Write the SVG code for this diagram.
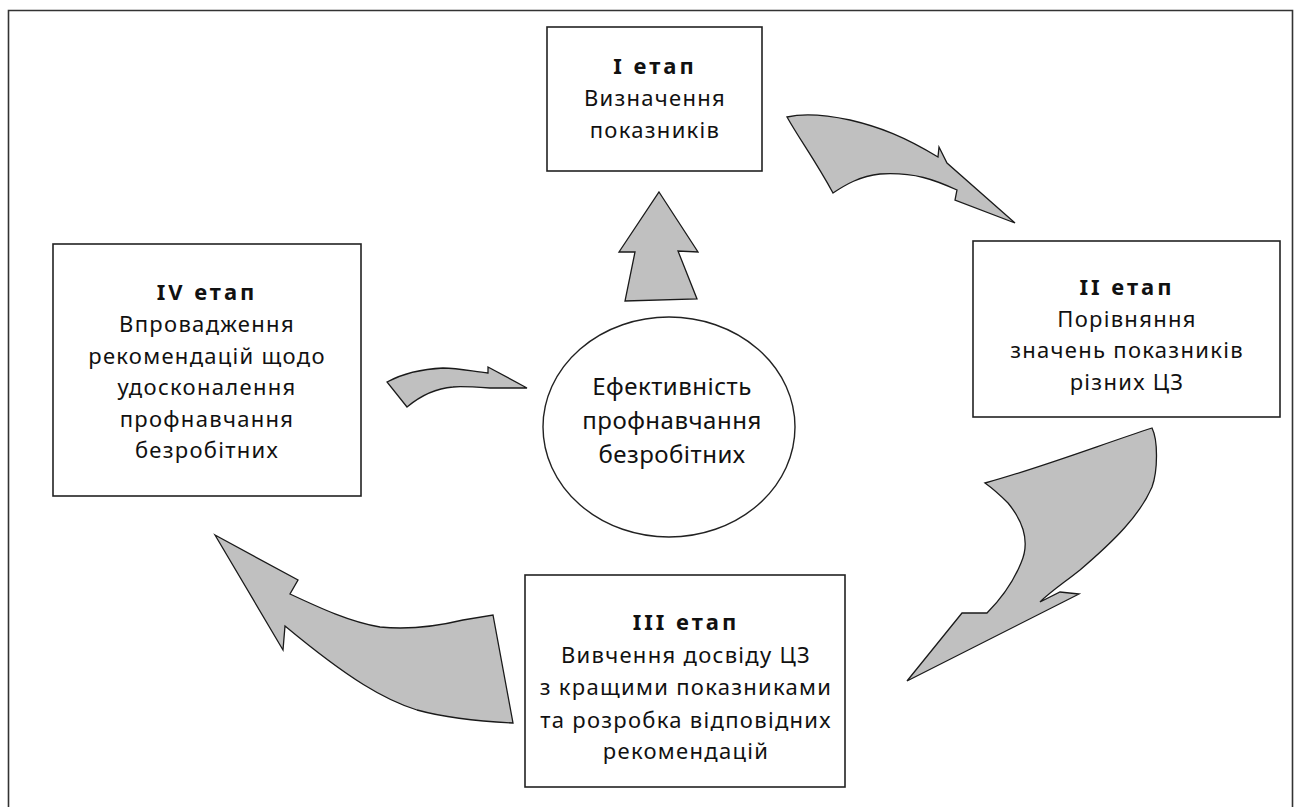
<svg xmlns="http://www.w3.org/2000/svg" width="1301" height="807" viewBox="0 0 1301 807">
<style>
.box{fill:#fff;stroke:#222;stroke-width:1.6}
.arr{fill:#c0c0c0;stroke:#1a1a1a;stroke-width:1.3;stroke-linejoin:miter}
.t{font-family:"Noto Sans","DejaVu Sans",sans-serif;font-size:22px;letter-spacing:1.3px;fill:#111;text-anchor:middle}
.h{font-weight:bold;letter-spacing:3px}
.e{font-size:24px;letter-spacing:0.5px}
</style>
<rect width="1301" height="807" fill="#fff"/>
<path d="M8.5 807 V10.5 H1292.5 V807" fill="none" stroke="#333" stroke-width="1.6"/>
<g id="connectors">
<path class="arr" d="M659 192 L698 252 L678 251 L697 299 L625 301 L635 252 L619 252 Z"/>
<path class="arr" d="M787 117 C800 114 817 113 850 120 C880 127 905 137 938 157 L939 147 L947 163 L1015 223 L955 200 L957 190 C935 180 915 172 880 174 C860 176 845 185 833 193 C815 160 800 140 787 117 Z"/>
<path class="arr" d="M1152 428 C1158 440 1158 470 1152 487 C1140 515 1115 540 1080 570 C1065 582 1050 592 1040 602 L1060 592 L1079 594 L907 681 L962 613 L987 613 C1000 600 1012 585 1021 563 C1029 545 1026 525 1008 503 C1000 495 992 488 985 483 C1040 468 1100 445 1152 428 Z"/>
<path class="arr" d="M215 535 L298 580 L290 594 C320 608 350 622 380 627 C400 629 430 628 463 620 L493 615 L513 723 C490 722 450 719 417 710 C385 700 350 680 285 626 L283 650 Z"/>
<path class="arr" d="M387 382 C400 375 420 369 443 368 C460 368 475 372 488 373 L488 367 L527 388 L490 388 C475 387 460 386 453 387 C440 388 425 392 407 407 Z"/>
</g>
<g id="node-center">
<ellipse cx="669" cy="427" rx="126" ry="110" fill="#fff" stroke="#222" stroke-width="1.4"/>
<text class="t e" x="672" y="395">Ефективність</text>
<text class="t e" x="672" y="429">профнавчання</text>
<text class="t e" x="672" y="463">безробітних</text>
</g>
<g id="node-1">
<rect class="box" x="547" y="27" width="215" height="144"/>
<text class="t h" x="655" y="74">I етап</text>
<text class="t" x="655" y="106">Визначення</text>
<text class="t" x="655" y="138">показників</text>
</g>
<g id="node-2">
<rect class="box" x="973" y="241" width="307" height="176"/>
<text class="t h" x="1127" y="295">II етап</text>
<text class="t" x="1127" y="327">Порівняння</text>
<text class="t" x="1127" y="358">значень показників</text>
<text class="t" x="1127" y="390">різних ЦЗ</text>
</g>
<g id="node-3">
<rect class="box" x="525" y="575" width="320" height="212"/>
<text class="t h" x="686" y="630">III етап</text>
<text class="t" x="686" y="663">Вивчення досвіду ЦЗ</text>
<text class="t" x="686" y="695">з кращими показниками</text>
<text class="t" x="686" y="728">та розробка відповідних</text>
<text class="t" x="686" y="759">рекомендацій</text>
</g>
<g id="node-4">
<rect class="box" x="53" y="244" width="308" height="252"/>
<text class="t h" x="207" y="300">IV етап</text>
<text class="t" x="207" y="332">Впровадження</text>
<text class="t" x="207" y="364">рекомендацій щодо</text>
<text class="t" x="207" y="395">удосконалення</text>
<text class="t" x="207" y="427">профнавчання</text>
<text class="t" x="207" y="458">безробітних</text>
</g>
</svg>
